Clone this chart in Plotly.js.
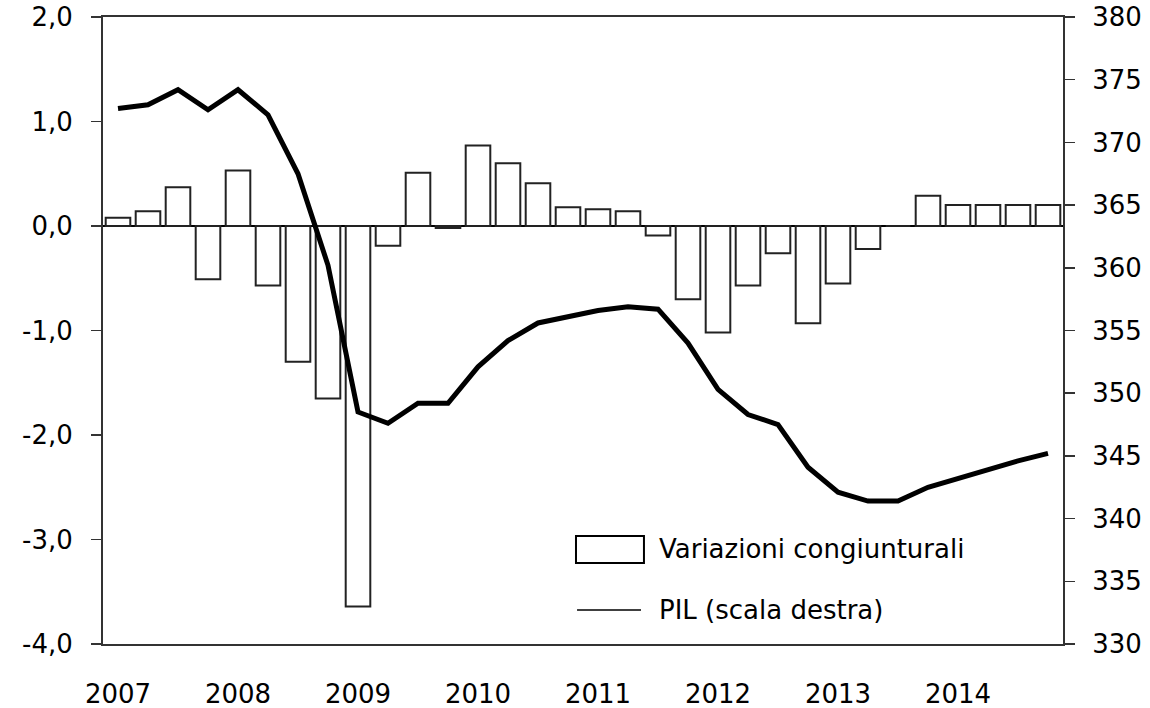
<!DOCTYPE html>
<html>
<head>
<meta charset="utf-8">
<script src="https://cdn.plot.ly/plotly-3.0.1.min.js"></script>
<style>html,body{margin:0;padding:0;background:#fff;}#chart{width:1150px;height:708px;}</style>
</head>
<body>
<div id="chart"></div>
<script>
// Years shown on the x axis
const years = [2007, 2008, 2009, 2010, 2011, 2012, 2013, 2014];
// Quarters (year, quarter)
const quarterYear = [2007,2007,2007,2007,2008,2008,2008,2008,2009,2009,2009,2009,2010,2010,2010,2010,
                     2011,2011,2011,2011,2012,2012,2012,2012,2013,2013,2013,2013,2014,2014,2014,2014];
const quarterNum  = [1,2,3,4,1,2,3,4,1,2,3,4,1,2,3,4,1,2,3,4,1,2,3,4,1,2,3,4,1,2,3,4];
// Variazioni congiunturali (%), left axis
const variazioni = [0.08, 0.14, 0.37, -0.51,
                    0.53, -0.57, -1.30, -1.65,
                    -3.64, -0.19, 0.51, -0.02,
                    0.77, 0.60, 0.41, 0.18,
                    0.16, 0.14, -0.09, -0.70,
                    -1.02, -0.57, -0.26, -0.93,
                    -0.55, -0.22, 0.00, 0.29,
                    0.20, 0.20, 0.20, 0.20];
// PIL (scala destra)
const pil = [372.7, 373.0, 374.2, 372.6,
             374.2, 372.2, 367.5, 360.2,
             348.5, 347.6, 349.2, 349.2,
             352.1, 354.2, 355.6, 356.1,
             356.6, 356.9, 356.7, 354.0,
             350.3, 348.3, 347.5, 344.1,
             342.1, 341.4, 341.4, 342.5,
             343.2, 344.0, 344.6, 345.2];
// Left axis ticks
const leftTicks = [-4, -3, -2, -1, 0, 1, 2];
const leftTickLabels = ["-4,0", "-3,0", "-2,0", "-1,0", "0,0", "1,0", "2,0"];
// Right axis ticks
const rightTicks = [330, 335, 340, 345, 350, 355, 360, 365, 370, 375, 380];
const legendLabels = ["Variazioni congiunturali", "PIL (scala destra)"];

const xq = quarterYear.map((y, i) => y + (quarterNum[i] - 0.5) / 4);

const font = "DejaVu Sans, Verdana, sans-serif";
const axisCol = "#333";

const traces = [
  {
    type: "bar", x: xq, y: variazioni, yaxis: "y", name: legendLabels[0],
    marker: {color: "#ffffff", line: {color: "#222", width: 2}},
    hoverinfo: "x+y"
  },
  {
    type: "scatter", mode: "lines", x: xq, y: pil, yaxis: "y2", name: legendLabels[1],
    line: {color: "#000", width: 5}
  }
];

const layout = {
  width: 1150, height: 708,
  margin: {l: 103, r: 87, t: 17, b: 64, pad: 0},
  paper_bgcolor: "#fff", plot_bgcolor: "#fff",
  showlegend: false,
  separators: ",.",
  bargap: 0.18,
  font: {family: font, size: 26, color: "#000"},
  xaxis: {
    range: [2007, 2015],
    tickvals: years.map(y => y + 0.125),
    ticktext: years.map(String),
    ticks: "", showgrid: false, zeroline: false,
    showline: true, mirror: true, linecolor: axisCol, linewidth: 2,
    ticklabelstandoff: 26
  },
  yaxis: {
    range: [-4, 2],
    tickvals: leftTicks, ticktext: leftTickLabels,
    ticks: "outside", ticklen: 10, tickwidth: 1.5, tickcolor: axisCol,
    showline: true, linecolor: axisCol, linewidth: 2,
    showgrid: false, zeroline: true, zerolinecolor: "#000", zerolinewidth: 2,
    ticklabelstandoff: 13
  },
  yaxis2: {
    range: [330, 380], tickvals: rightTicks, overlaying: "y", side: "right",
    ticks: "outside", ticklen: 10, tickwidth: 1.5, tickcolor: axisCol,
    showline: true, linecolor: axisCol, linewidth: 2,
    showgrid: false, zeroline: false,
    ticklabelstandoff: 12
  },
  shapes: [
    {type: "rect", xref: "paper", yref: "paper", x0: 0.4927, x1: 0.5635, y0: 0.1292, y1: 0.1722,
     line: {color: "#000", width: 2}, fillcolor: "#fff"},
    {type: "line", xref: "paper", yref: "paper", x0: 0.4938, x1: 0.5604, y0: 0.0542, y1: 0.0542,
     line: {color: "#000", width: 1.5}}
  ],
  annotations: [
    {xref: "paper", yref: "paper", x: 0.5771, y: 0.1515, xanchor: "left", yanchor: "middle",
     text: legendLabels[0], showarrow: false, font: {family: font, size: 26, color: "#000"}},
    {xref: "paper", yref: "paper", x: 0.5771, y: 0.0542, xanchor: "left", yanchor: "middle",
     text: legendLabels[1], showarrow: false, font: {family: font, size: 26, color: "#000"}}
  ]
};

Plotly.newPlot("chart", traces, layout, {displayModeBar: false, staticPlot: true});
</script>
</body>
</html>
